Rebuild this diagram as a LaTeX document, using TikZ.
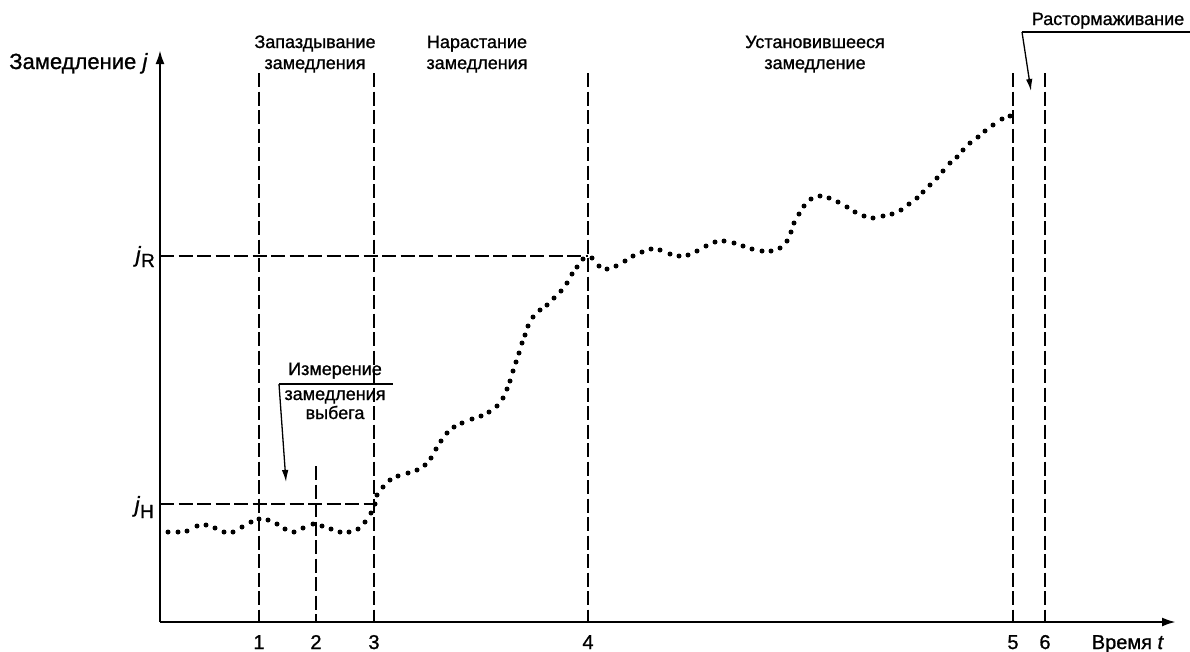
\documentclass[tikz,border=0pt]{standalone}
\usepackage{fontspec}
\setmainfont{Liberation Sans}[UprightFeatures={FakeBold=1},ItalicFeatures={FakeBold=1}]
\usetikzlibrary{arrows.meta}
\begin{document}
\begin{tikzpicture}[x=1pt,y=-1pt,
  axisline/.style={line width=2.4pt,-{Latex[length=14pt,width=9pt]}},
  guide/.style={line width=2pt,dash pattern=on 14pt off 4.5pt},
  pointer/.style={line width=1.3pt,-{Latex[length=12pt,width=6.5pt]}},
  rulel/.style={line width=1.3pt},
  lbl/.style={font=\fontsize{18}{21}\selectfont,inner sep=0pt,anchor=base},
  axlbl/.style={font=\fontsize{22}{26}\selectfont,inner sep=0pt},
  ticklbl/.style={font=\fontsize{20}{24}\selectfont,inner sep=0pt,anchor=base},
  dotc/.style={fill=black}]
\useasboundingbox (0,0) rectangle (1190,651);

% axes
\coordinate (O) at (160,622);
\coordinate (Ytop) at (160,50);
\coordinate (Xend) at (1176,622);
\draw[axisline] (O) -- (Ytop);
\draw[axisline] (O) -- (Xend);

% vertical guides
\foreach \n/\x/\t in {1/259/73,2/316/466,3/374/73,4/588/73,5/1013/73,6/1045/73}{
  \coordinate (b\n) at (\x,622);
  \coordinate (top\n) at (\x,\t);
  \draw[guide] (top\n) -- (b\n);
  \node[ticklbl] (n\n) at (\x,649) {\n};
}

% horizontal guides
\coordinate (jR) at (160,256);
\coordinate (jH) at (160,504);
\draw[guide] (jR) -- (jR -| b4);
\draw[guide] (jH) -- (jH -| b3);

% axis labels
\node[axlbl,anchor=base east] (ylab) at (148,69) {Замедление \textit{j}};
\node[ticklbl,anchor=base east] (xlab) at (1164,649) {Время \textit{t}};
\node[axlbl,anchor=base east] (jRl) at (155,262) {\textit{j}\raisebox{-5pt}{\fontsize{19}{22}\selectfont R}};
\node[axlbl,anchor=base east] (jHl) at (154,512) {\textit{j}\raisebox{-6pt}{\fontsize{19}{22}\selectfont H}};

% phase labels
\node[lbl] (p1a) at (315,48) {Запаздывание};
\node[lbl] (p1b) at (315,69) {замедления};
\node[lbl] (p2a) at (477,48) {Нарастание};
\node[lbl] (p2b) at (477,69) {замедления};
\node[lbl] (p3a) at (815,48) {Установившееся};
\node[lbl] (p3b) at (815,69) {замедление};

% release annotation
\node[lbl] (rel) at (1108,25) {Растормаживание};
\coordinate (rL) at (1022,32);
\coordinate (rR) at (1190,32);
\coordinate (rTip) at (1031,91);
\draw[rulel] (rL) -- (rR);
\draw[pointer] (rL) -- (rTip);

% coast measurement annotation
\node[lbl] (m1) at (335,375) {Измерение};
\node[lbl] (m2) at (335,400) {замедления};
\node[lbl] (m3) at (335,419) {выбега};
\coordinate (mL) at (279,384);
\coordinate (mR) at (393,384);
\coordinate (mTip) at (286,482);
\draw[rulel] (mL) -- (mR);
\draw[pointer] (mL) -- (mTip);

% dotted deceleration curve
\foreach \p in {
(168,532),(178,532),(187,531),(197,526),(206,525),(215,528),(224,532),(233,532),
(242,527),(251,522),(259,519),(268,520),(277,524),(285,529),(294,532),(303,528),
(313,524),(322,526),(331,529),(340,532),(349,532),(358,529),(365,522),(371,513),
(375,504),(377,495),(383,487),(390,480),(398,476),(408,473),(417,470),(425,465),
(431,458),(436,449),(441,441),(447,433),(454,427),(462,423),(472,419),(481,416),
(489,412),(497,406),(503,398),(507,389),(510,381),(513,371),(516,362),(519,353),
(522,343),(525,335),(528,326),(533,317),(540,310),(547,305),(554,298),(561,291),
(567,283),(572,274),(577,267),(583,259),
(592,258),(599,266),(607,269),(616,266),(625,261),(633,256),(642,252),(651,249),
(660,250),(670,254),(679,256),(688,255),(697,251),(706,246),(715,242),(724,241),
(734,243),(743,246),(752,249),(762,251),(771,251),(780,248),(787,241),(791,232),
(794,223),(799,214),(804,206),(811,199),(820,196),(829,198),(838,202),(847,207),
(855,212),(864,216),(873,218),(883,216),(892,214),(901,210),(909,204),(917,198),
(923,192),(930,185),(937,178),(943,171),(950,163),(957,157),(963,150),(970,143),
(978,137),(985,131),(993,125),(1002,119),(1010,116)}{
  \fill[dotc] \p circle (2.5);
}
\end{tikzpicture}
\end{document}
